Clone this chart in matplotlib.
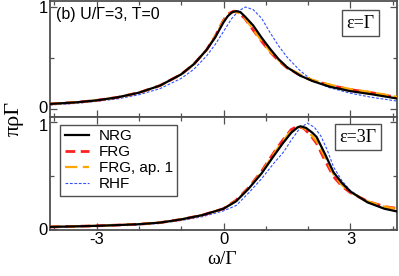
import matplotlib
matplotlib.use("Agg")
import matplotlib.pyplot as plt
from matplotlib.ticker import MultipleLocator
from matplotlib.transforms import ScaledTranslation

# ---------------- data ----------------
# top panel: eps = Gamma
w_top_nrg = [-4.1, -3.5, -3.0, -2.5, -2.0, -1.5, -1.0, -0.7, -0.4, -0.2, 0.0, 0.1, 0.2, 0.3, 0.4, 0.5, 0.7, 0.9, 1.1, 1.3, 1.5, 1.8, 2.1, 2.5, 3.0, 3.5, 4.15]
r_top_nrg = [0.05, 0.065, 0.085, 0.115, 0.16, 0.23, 0.34, 0.44, 0.58, 0.70, 0.85, 0.91, 0.948, 0.96, 0.95, 0.91, 0.82, 0.70, 0.59, 0.49, 0.41, 0.33, 0.275, 0.22, 0.175, 0.145, 0.10]

w_top_frg = [-4.1, -3.5, -3.0, -2.5, -2.0, -1.5, -1.0, -0.7, -0.4, -0.2, 0.0, 0.1, 0.24, 0.35, 0.5, 0.7, 0.9, 1.1, 1.3, 1.5, 1.8, 2.1, 2.5, 3.0, 3.5, 4.15]
r_top_frg = [0.05, 0.065, 0.085, 0.115, 0.16, 0.23, 0.34, 0.44, 0.58, 0.71, 0.87, 0.93, 0.96, 0.945, 0.89, 0.775, 0.665, 0.56, 0.475, 0.405, 0.335, 0.28, 0.235, 0.19, 0.16, 0.11]

w_top_ap1 = [-4.1, -3.5, -3.0, -2.5, -2.0, -1.5, -1.0, -0.7, -0.4, -0.2, 0.0, 0.1, 0.25, 0.35, 0.5, 0.7, 0.9, 1.1, 1.3, 1.5, 1.8, 2.1, 2.5, 3.0, 3.5, 4.15]
r_top_ap1 = [0.05, 0.065, 0.085, 0.115, 0.16, 0.23, 0.34, 0.44, 0.58, 0.71, 0.865, 0.925, 0.955, 0.945, 0.895, 0.78, 0.67, 0.565, 0.48, 0.41, 0.34, 0.285, 0.24, 0.195, 0.165, 0.115]

w_top_rhf = [-4.1, -3.5, -3.0, -2.5, -2.0, -1.5, -1.0, -0.7, -0.4, -0.2, 0.0, 0.2, 0.35, 0.52, 0.7, 0.9, 1.1, 1.3, 1.5, 1.8, 2.1, 2.5, 3.0, 3.5, 4.15]
r_top_rhf = [0.04, 0.055, 0.075, 0.10, 0.14, 0.20, 0.30, 0.39, 0.52, 0.63, 0.76, 0.89, 0.96, 1.0, 0.975, 0.89, 0.75, 0.62, 0.51, 0.38, 0.28, 0.21, 0.155, 0.115, 0.075]

# bottom panel: eps = 3 Gamma
w_bot_nrg = [-4.1, -3.5, -3.0, -2.5, -2.0, -1.5, -1.0, -0.5, 0.0, 0.3, 0.6, 0.9, 1.2, 1.4, 1.6, 1.75, 1.82, 1.95, 2.1, 2.2, 2.4, 2.6, 2.8, 3.0, 3.4, 3.8, 4.15]
r_bot_nrg = [0.02, 0.025, 0.03, 0.037, 0.045, 0.06, 0.09, 0.13, 0.19, 0.26, 0.38, 0.52, 0.69, 0.80, 0.90, 0.95, 0.96, 0.945, 0.90, 0.86, 0.70, 0.53, 0.43, 0.35, 0.25, 0.19, 0.16]

w_bot_frg = [-4.1, -3.5, -3.0, -2.5, -2.0, -1.5, -1.0, -0.5, 0.0, 0.3, 0.6, 0.9, 1.2, 1.4, 1.6, 1.75, 1.9, 2.05, 2.2, 2.4, 2.6, 2.8, 3.0, 3.4, 3.8, 4.15]
r_bot_frg = [0.02, 0.025, 0.03, 0.037, 0.045, 0.06, 0.09, 0.13, 0.19, 0.27, 0.39, 0.54, 0.72, 0.83, 0.93, 0.96, 0.94, 0.88, 0.80, 0.64, 0.49, 0.40, 0.34, 0.26, 0.21, 0.19]

w_bot_ap1 = [-4.1, -3.5, -3.0, -2.5, -2.0, -1.5, -1.0, -0.5, 0.0, 0.3, 0.6, 0.9, 1.2, 1.4, 1.6, 1.78, 1.9, 2.05, 2.2, 2.4, 2.6, 2.8, 3.0, 3.4, 3.8, 4.15]
r_bot_ap1 = [0.02, 0.025, 0.03, 0.037, 0.045, 0.06, 0.09, 0.13, 0.19, 0.265, 0.385, 0.53, 0.71, 0.82, 0.92, 0.955, 0.945, 0.89, 0.82, 0.67, 0.51, 0.41, 0.345, 0.26, 0.21, 0.185]

w_bot_rhf = [-4.1, -3.5, -3.0, -2.5, -2.0, -1.5, -1.0, -0.5, 0.0, 0.3, 0.6, 0.9, 1.2, 1.42, 1.6, 1.8, 1.98, 2.15, 2.3, 2.45, 2.6, 2.8, 3.0, 3.4, 3.8, 4.15]
r_bot_rhf = [0.018, 0.022, 0.027, 0.033, 0.04, 0.053, 0.08, 0.115, 0.17, 0.22, 0.34, 0.47, 0.62, 0.72, 0.83, 0.94, 0.99, 0.95, 0.87, 0.74, 0.58, 0.45, 0.36, 0.25, 0.19, 0.16]

labels = ["NRG", "FRG", "FRG, ap. 1", "RHF"]
x_ticks = [-3, 0, 3]
x_ticklabels = ["-3", "0", "3"]
y_ticks = [0, 1]
y_ticklabels = ["0", "1"]
panel_labels = ["ε=Γ", "ε=3Γ"]
title_text = "(b) U/Γ=3, T=0"

# ---------------- figure ----------------
plt.rcParams['font.family'] = ['Liberation Sans', 'DejaVu Sans']
W, H = 399, 276
fig = plt.figure(figsize=(W / 100, H / 100), dpi=100)

L, R = 50 / W, 397 / W
ax1 = fig.add_axes([L, 1 - 117 / H, R - L, (117 - 1) / H])
ax2 = fig.add_axes([L, 1 - 230 / H, R - L, (230 - 117) / H])

styles = dict(
    nrg=dict(color="black", lw=1.6, ls="-", zorder=4),
    frg=dict(color="#ff2020", lw=2.0, ls=(0, (3.5, 2.0)), zorder=3),
    ap1=dict(color="#ffa500", lw=1.6, ls=(0, (5.5, 2.5)), zorder=3.5),
    rhf=dict(color="#3050ff", lw=0.8, ls=(0, (2.5, 1.5)), zorder=2),
)

def draw(ax, data):
    handles = []
    for key, (w, r) in zip(["nrg", "frg", "ap1", "rhf"], data):
        h, = ax.plot(w, r, **styles[key])
        handles.append(h)
    return handles

draw(ax1, [(w_top_nrg, r_top_nrg), (w_top_frg, r_top_frg), (w_top_ap1, r_top_ap1), (w_top_rhf, r_top_rhf)])
hs = draw(ax2, [(w_bot_nrg, r_bot_nrg), (w_bot_frg, r_bot_frg), (w_bot_ap1, r_bot_ap1), (w_bot_rhf, r_bot_rhf)])

ax1.set_ylim(-0.078, 1.059)
ax2.set_ylim(-0.009, 1.047)

spine_col = "#505050"
for ax in (ax1, ax2):
    ax.set_xlim(-4.1, 4.1)
    ax.set_xticks(x_ticks)
    ax.xaxis.set_minor_locator(MultipleLocator(1))
    ax.set_yticks(y_ticks)
    ax.set_yticklabels(y_ticklabels)
    ax.yaxis.set_minor_locator(MultipleLocator(0.5))
    ax.tick_params(which="both", direction="in", top=True, right=True, color=spine_col, width=0.9)
    ax.tick_params(which="major", length=5, labelsize=12, pad=1.5)
    ax.tick_params(which="minor", length=3)
    for s in ax.spines.values():
        s.set_color(spine_col)
        s.set_linewidth(1.3)

ax1.set_xticklabels([])
ax2.set_xticklabels(x_ticklabels)
# the two y labels at the panel joint just meet in the reference: nudge them apart slightly
lab0 = ax1.get_yticklabels()[0]
lab0.set_transform(lab0.get_transform() + ScaledTranslation(0, 2.5 / 100, fig.dpi_scale_trans))
lab1 = ax2.get_yticklabels()[1]
lab1.set_transform(lab1.get_transform() + ScaledTranslation(0, -2.5 / 100, fig.dpi_scale_trans))

ax1.text(0.018, 0.885, title_text, transform=ax1.transAxes, fontsize=11.5, ha="left", va="center")

box = dict(boxstyle="square,pad=0.25", fc="white", ec=spine_col, lw=1.0)
ax1.text(0.894, 0.81, panel_labels[0], transform=ax1.transAxes, fontsize=13,
         family=["Liberation Serif", "DejaVu Serif"], ha="center", va="center", bbox=box)
ax2.text(0.888, 0.82, panel_labels[1], transform=ax2.transAxes, fontsize=13,
         family=["Liberation Serif", "DejaVu Serif"], ha="center", va="center", bbox=box)

leg = ax2.legend(hs, labels, loc="upper left", bbox_to_anchor=(0.03, 0.93), fontsize=11,
                 frameon=True, fancybox=False, edgecolor=spine_col, framealpha=1,
                 handlelength=1.6, handletextpad=0.6, labelspacing=0.12, borderpad=0.3,
                 borderaxespad=0)
leg.get_frame().set_linewidth(1.0)

fig.text(222 / W, 1 - 259 / H, "ω/Γ", fontsize=14, family=["Liberation Serif", "DejaVu Serif"],
         ha="center", va="center")
fig.text(14 / W, 1 - 118 / H, "πρΓ", fontsize=16, family=["Liberation Serif", "DejaVu Serif"],
         ha="center", va="center", rotation=90)

fig.savefig("out.png", dpi=100)
